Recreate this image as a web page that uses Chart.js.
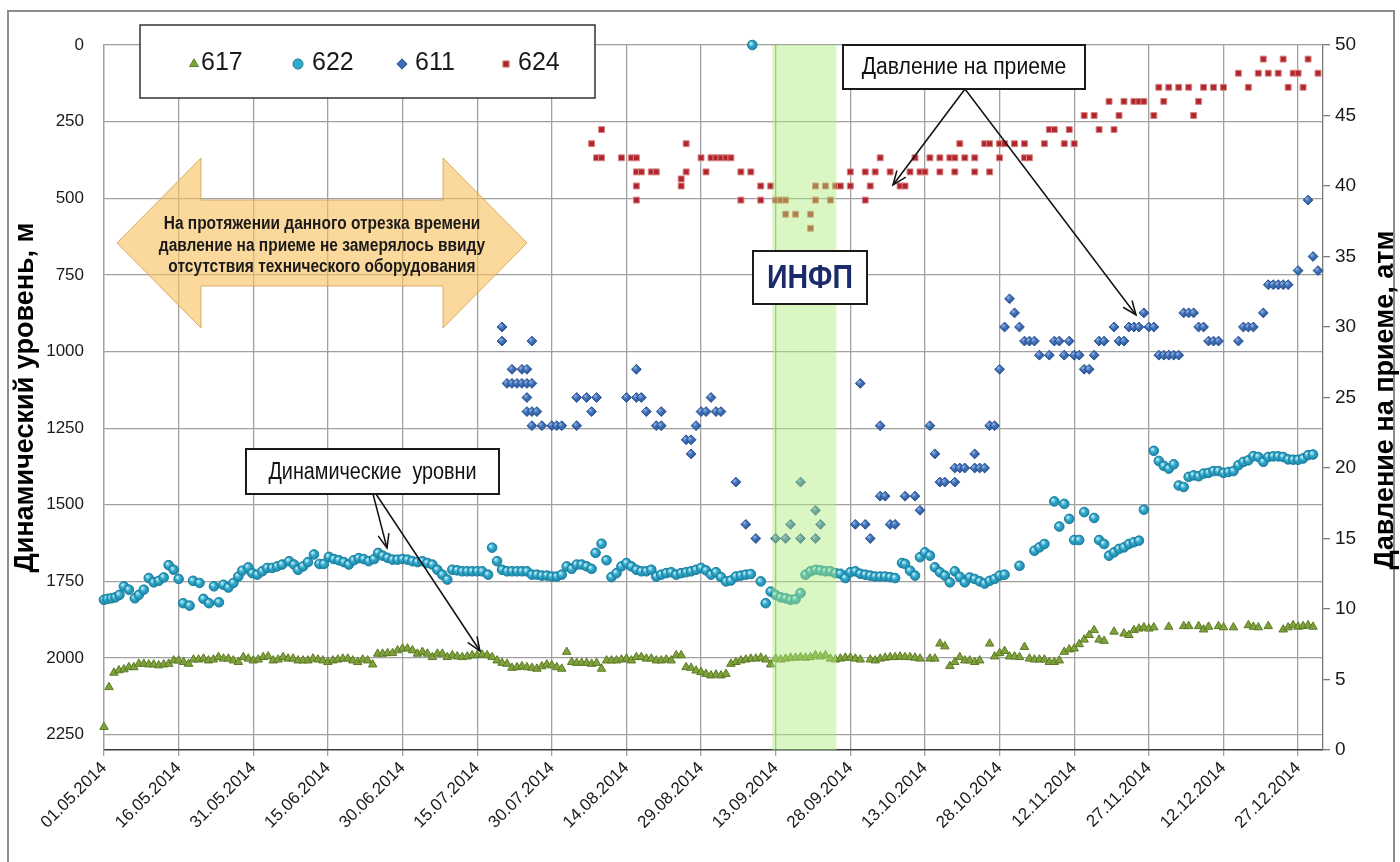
<!DOCTYPE html>
<html lang="ru">
<head>
<meta charset="utf-8">
<title>Динамический уровень и давление на приеме</title>
<script src="https://cdn.jsdelivr.net/npm/chart.js@4.4.1/dist/chart.umd.min.js"></script>
<style>
  html, body { margin: 0; padding: 0; background: #fff; }
  #wrap { position: relative; width: 1400px; height: 862px; }
</style>
</head>
<body>
<div id="wrap"><canvas id="chart" width="1400" height="862"></canvas></div>
<script>
"use strict";

// Data: x = days since 01.05.2014

var START = new Date(2014, 4, 1);

// well 617, dynamic level, m
var days617 = [0,1,2,3,4,5,6,7,8,9,10,11,12,13,14,15,16,17,18,19,20,21,22,23,24,25,26,27,28,29,
	30,31,32,33,34,35,36,37,38,39,40,41,42,43,44,45,46,47,48,49,50,51,52,53,54,55,56,57,58,59,
	60,61,62,63,64,65,66,67,68,69,70,71,72,73,74,75,76,77,78,79,80,81,82,83,84,85,86,87,88,89,
	90,91,92,93,94,95,96,97,98,99,100,101,102,103,104,105,106,107,108,109,110,111,112,113,114,115,116,117,118,119,
	120,121,122,123,124,125,126,127,128,129,130,131,132,133,134,135,136,137,138,139,140,141,142,143,144,145,146,147,148,149,
	150,151,152,154,155,156,157,158,159,160,161,162,163,164,166,167,168,169,170,171,172,173,174,175,176,178,179,
	180,181,182,183,184,185,186,187,188,189,190,191,192,193,194,195,196,197,198,199,200,201,203,205,206,207,208,209,
	210,211,214,217,218,220,221,222,224,225,227,230,231,232,234,237,238,239,240,241,242,243];
var level617 = [2225,2095,2048,2040,2037,2030,2030,2019,2019,2021,2021,2024,2021,2019,2008,2008,2013,2019,2005,2005,
	2002,2008,2005,1997,2002,2002,2008,2013,1997,2002,2008,2005,1997,1995,2008,2005,1997,2002,2002,2008,
	2008,2008,2002,2005,2008,2013,2008,2005,2002,2002,2008,2013,2005,2008,2021,1986,1986,1984,1984,1975,
	1969,1969,1975,1986,1980,1986,1997,1986,1986,1997,1991,1995,1997,1995,1991,1991,1989,1991,1997,2008,
	2016,2019,2032,2030,2027,2030,2032,2035,2027,2021,2024,2030,2035,1980,2013,2016,2016,2016,2019,2016,
	2035,2008,2008,2008,2005,2002,2008,1997,1997,2002,2002,2008,2008,2005,2008,1991,1991,2030,2032,2041,
	2046,2052,2057,2054,2057,2052,2019,2013,2008,2005,2002,2002,1999,2005,2021,2002,2005,2002,1999,1999,
	1997,1999,1997,1991,1995,1991,2002,2005,2002,1999,1999,2002,2005,2005,2008,2002,1999,1997,1997,1995,
	1997,1997,1999,2002,2002,2002,1953,1962,2026,2013,1997,2008,2008,2013,2008,1953,1995,1984,1977,1995,
	1995,1997,1964,2002,2005,2005,2005,2013,2013,2008,1980,1972,1969,1955,1940,1925,1909,1940,1944,1914,
	1920,1925,1909,1904,1900,1904,1900,1898,1896,1896,1896,1907,1898,1896,1900,1900,1893,1898,1900,1896,
	1907,1900,1893,1898,1896,1893,1898];

// well 622, dynamic level, m
var days622 = [0,0.7,1.5,2.3,3.1,4,5,6.2,7,8,9,10,11,12,13,14,15,15.9,17.2,17.9,19.2,20,21.1,22.1,23.1,24,25,26,27,27.8,
	29,29.8,30.8,31.8,32.8,33.8,34.8,35.8,37.2,38.2,39,40,41,42.2,43.3,44.2,45.2,46.2,47.2,48.2,49.2,50.2,51.2,52.2,53.2,54.3,55.1,56,57,58,
	59,60,61,62,63,64,65,66,67,68,69,70,71,72,73,74,75,76,77.2,78,79,80,81,82,83,84,85,86,87,88,
	89,90,91,92,93,94,95,96,97,98,98.8,100,101,102,103,104,105,106,107,108,109,110,111,112,113,114,115,116,117,118,
	119,120,121,122,123,124,125,126,127,128,129,130,130.3,132,133,134,135,136,137,138,139,140,141,142,143,144,145,146,147,148,
	149,150,151,152,153,154,155,156,157,158,159,160.4,161,162,163,164,165,166,167,168,169,170,171,172,173,174,175,176,177,178,
	179,180,181,184,187,188,189,191,192,193,194,195,196,197,199,200,201,202,203,204,205,206,207,208,209,211,212,213,214,215,
	216,217,218,219,220,221,222,223,224,225,226,227,228,229,230,231,232,233,234,235,236,237,238,239,240,241,242,243];
var level622 = [1810,1807,1805,1802,1794,1766,1777,1805,1794,1777,1739,1753,1748,1737,1697,1712,1742,1821,1829,1748,1755,1807,1821,1766,1818,1761,1770,1755,1734,1715,
	1704,1723,1728,1717,1706,1706,1701,1695,1684,1695,1712,1701,1687,1662,1693,1693,1670,1677,1681,1687,1695,1681,1674,1677,1684,1677,1657,1666,1673,1679,
	1679,1677,1679,1684,1687,1684,1690,1695,1712,1728,1744,1712,1714,1717,1717,1717,1717,1717,1728,1640,1684,1712,1717,1717,1717,1717,1717,1728,1728,1731,
	1731,1734,1734,1728,1701,1709,1695,1695,1701,1709,1657,1627,1681,1736,1723,1701,1690,1701,1712,1717,1717,1712,1734,1728,1723,1720,1728,1723,1720,1717,
	1712,1706,1714,1728,1720,1736,1750,1747,1734,1731,1728,1726,0,1750,1821,1783,1794,1802,1805,1810,1808,1788,1728,1717,1712,1714,1717,1717,1723,1725,
	1739,1720,1717,1725,1728,1731,1734,1734,1734,1736,1739,1690,1693,1715,1731,1671,1655,1666,1704,1720,1731,1753,1717,1735,1753,1737,1742,1750,1757,1748,
	1742,1731,1728,1699,1650,1639,1628,1489,1571,1497,1546,1615,1615,1524,1543,1615,1628,1666,1655,1644,1639,1628,1622,1617,1516,1324,1357,1373,1382,1368,
	1437,1442,1409,1404,1407,1398,1396,1390,1390,1396,1393,1390,1371,1360,1355,1341,1344,1360,1344,1342,1342,1344,1352,1353,1353,1349,1338,1336];

// well 611, intake pressure, atm
var days611 = [80,80,81,82,82,83,84,84,85,85,85,85,86,86,86,86,87,88,90,91,92,95,95,97,98,99,105,107,107,108,
	109,111,112,112,117,118,118,119,120,121,122,123,124,127,129,131,135,137,138,140,140,143,143,144,151,152,153,154,156,156,
	157,158,159,161,163,164,166,167,168,169,171,171,172,173,175,175,176,177,178,179,180,181,182,183,184,185,186,187,188,190,
	191,192,193,194,195,196,197,198,199,200,201,203,204,205,206,207,208,209,210,211,212,213,214,215,216,217,218,219,220,221,
	222,223,224,228,229,230,231,233,234,235,236,237,238,240,242,243,244];
var press611 = [30,29,26,27,26,26,27,26,27,26,25,24,29,26,24,23,24,23,23,23,23,25,23,25,24,25,25,27,25,25,
	24,23,24,23,22,22,21,23,24,24,25,24,24,19,16,15,15,15,16,19,15,17,15,16,16,26,16,15,23,18,
	18,16,16,18,18,17,23,21,19,19,20,19,20,20,21,20,20,20,23,23,27,30,32,31,30,29,29,29,28,28,
	29,29,28,29,28,28,27,27,28,29,29,30,29,29,30,30,30,31,30,30,28,28,28,28,28,31,31,31,30,30,
	29,29,29,29,30,30,30,31,33,33,33,33,33,34,39,35,34];

// well 624, intake pressure, atm
var days624 = [98,99,100,100,104,106,107,107,107,107,108,110,111,116,116,117,117,120,121,122,123,124,125,126,128,128,130,132,132,134,
	135,136,137,137,139,142,142,143,143,145,146,147,148,150,150,153,153,154,155,156,158,160,161,162,163,164,165,166,168,168,
	170,171,171,172,173,175,175,177,178,178,180,180,181,183,185,185,186,189,190,191,193,194,195,197,199,200,202,203,204,205,
	207,208,209,211,212,213,214,216,218,219,220,221,223,225,228,230,232,233,234,236,237,238,239,240,241,242,244];
var press624 = [43,42,44,42,42,42,42,41,40,39,41,41,41,40.5,40,43,41,42,41,42,42,42,42,42,41,39,41,40,39,40,
	39,39,39,38,38,38,37,40,39,40,39,40,40,40,41,41,39,40,41,42,41,40,40,41,42,41,41,42,42,41,
	42,41,42,43,42,42,41,43,41,43,43,42,43,43,43,42,42,43,44,44,43,44,43,45,45,44,46,44,45,46,
	46,46,46,45,47,46,47,47,47,45,46,47,47,47,48,47,48,49,48,48,49,47,48,48,47,49,48];

// ИНФП period (days)
var bandFrom = 134.3, bandTo = 147.2;

// Axis settings
var X_MAX = 245, X_STEP = 15;
var LEVEL_MAX = 2300, LEVEL_STEP = 250;
var PRESS_MAX = 50, PRESS_STEP = 5;

// Styles

var SANS = "'Liberation Sans', Arial, sans-serif",
	GRID = "#a0a0a0";

var STYLE_617 = { pointStyle: "triangle", radius: 4.9, backgroundColor: "#7fa23b", borderColor: "#5b7a25" },
	STYLE_622 = { pointStyle: "circle", radius: 4.8, backgroundColor: "#31a9cb", borderColor: "#1b7f9f",
		light: "#c4eef9", dark: "#1a7fa0" },
	STYLE_611 = { pointStyle: "rectRot", radius: 4.9, backgroundColor: "#3c6db5", borderColor: "#2a5394",
		light: "#8fb0e2", dark: "#27508f" },
	STYLE_624 = { pointStyle: "rect", radius: 4.2, backgroundColor: "#b0262c", borderColor: "#d98585" };

function toPoints(xs, ys) {
	return xs.map(function (x, i) { return { x: x, y: ys[i] }; });
}

function formatDay(value) {
	var d = new Date(START.getFullYear(), START.getMonth(), START.getDate() + value);
	var dd = ("0" + d.getDate()).slice(-2), mm = ("0" + (d.getMonth() + 1)).slice(-2);
	return dd + "." + mm + "." + d.getFullYear();
}

// shaded marker fill, lit from the upper left like the Excel markers
function glossyFill(style) {
	if (!style.light) {
		return style.backgroundColor;
	}
	return function (context) {
		var chart = context.chart, raw = context.raw;
		if (context.type !== "data" || !raw) {
			return style.backgroundColor;
		}
		var ds = chart.data.datasets[context.datasetIndex];
		var sx = chart.scales.x, sy = chart.scales[ds.yAxisID];
		var x = sx.getPixelForValue(raw.x), y = sy.getPixelForValue(raw.y);
		if (!isFinite(x) || !isFinite(y)) {
			return style.backgroundColor;
		}
		var g = chart.ctx.createRadialGradient(x - 1.6, y - 1.8, 0.3, x, y, style.radius + 0.5);
		g.addColorStop(0, style.light);
		g.addColorStop(0.45, style.backgroundColor);
		g.addColorStop(1, style.dark);
		return g;
	};
}

function makeDataset(label, points, axis, style, order) {
	return {
		label: label,
		data: points,
		yAxisID: axis,
		order: order,
		clip: false,
		pointStyle: style.pointStyle,
		pointRadius: style.radius,
		pointBackgroundColor: glossyFill(style),
		pointBorderColor: style.borderColor,
		pointBorderWidth: 1,
		showLine: false
	};
}

// Annotation helpers

function arrowLine(ctx, x1, y1, x2, y2) {
	var a = Math.atan2(y2 - y1, x2 - x1), h = 15, w = 0.38;
	ctx.beginPath();
	ctx.moveTo(x1, y1);
	ctx.lineTo(x2, y2);
	ctx.stroke();
	ctx.beginPath();
	ctx.moveTo(x2 - h * Math.cos(a - w), y2 - h * Math.sin(a - w));
	ctx.lineTo(x2, y2);
	ctx.lineTo(x2 - h * Math.cos(a + w), y2 - h * Math.sin(a + w));
	ctx.stroke();
}

// text squeezed horizontally, the way a narrow face looks
function narrowText(ctx, text, x, y, font, squeeze) {
	ctx.save();
	ctx.translate(x, y);
	ctx.scale(squeeze, 1);
	ctx.font = font;
	ctx.fillText(text, 0, 0);
	ctx.restore();
}

function textBox(ctx, x, y, w, h, text, font, color, squeeze) {
	ctx.fillStyle = "#fff";
	ctx.fillRect(x, y, w, h);
	ctx.strokeStyle = "#1a1a1a";
	ctx.lineWidth = 2;
	ctx.strokeRect(x, y, w, h);
	ctx.fillStyle = color;
	ctx.textAlign = "center";
	ctx.textBaseline = "middle";
	narrowText(ctx, text, x + w / 2, y + h / 2 + 1, font, squeeze);
}

var bandPlugin = {
	id: "infpBand",
	afterDatasetsDraw: function (chart) {
		var ctx = chart.ctx, area = chart.chartArea, sx = chart.scales.x;
		var x1 = sx.getPixelForValue(bandFrom), x2 = sx.getPixelForValue(bandTo);
		ctx.save();
		ctx.fillStyle = "rgba(172, 238, 122, 0.45)";
		ctx.fillRect(x1, area.top, x2 - x1, area.bottom - area.top);
		ctx.restore();
	}
};

var annotationPlugin = {
	id: "annotations",
	beforeDraw: function (chart) {
		var ctx = chart.ctx;
		ctx.save();
		ctx.fillStyle = "#fff";
		ctx.fillRect(0, 0, chart.width, chart.height);
		ctx.restore();
	},
	afterDraw: function (chart) {
		var ctx = chart.ctx;
		ctx.save();

		// outer frame
		ctx.strokeStyle = "#8c8c8c";
		ctx.lineWidth = 2;
		ctx.strokeRect(8, 11, 1386, 870);

		// big double arrow
		ctx.beginPath();
		ctx.moveTo(117, 243);
		ctx.lineTo(201, 158);
		ctx.lineTo(201, 200);
		ctx.lineTo(443, 200);
		ctx.lineTo(443, 158);
		ctx.lineTo(527, 243);
		ctx.lineTo(443, 328);
		ctx.lineTo(443, 286);
		ctx.lineTo(201, 286);
		ctx.lineTo(201, 328);
		ctx.closePath();
		ctx.fillStyle = "rgba(249, 192, 96, 0.62)";
		ctx.fill();
		ctx.strokeStyle = "rgba(205, 160, 80, 0.8)";
		ctx.lineWidth = 1;
		ctx.stroke();
		ctx.fillStyle = "#1a1a1a";
		ctx.textAlign = "center";
		ctx.textBaseline = "alphabetic";
		var arrowFont = "bold 18px " + SANS;
		narrowText(ctx, "На протяжении данного отрезка времени", 322, 229, arrowFont, 0.86);
		narrowText(ctx, "давление на приеме не замерялось ввиду", 322, 251, arrowFont, 0.86);
		narrowText(ctx, "отсутствия технического оборудования", 322, 272, arrowFont, 0.86);

		// legend
		ctx.fillStyle = "#fff";
		ctx.fillRect(140, 25, 455, 73);
		ctx.strokeStyle = "#333";
		ctx.lineWidth = 1.5;
		ctx.strokeRect(140, 25, 455, 73);
		var items = [
			["617", STYLE_617, 194, 201],
			["622", STYLE_622, 298, 312],
			["611", STYLE_611, 402, 415],
			["624", STYLE_624, 506, 518]
		];
		items.forEach(function (it) {
			var st = it[1];
			ctx.fillStyle = st.backgroundColor;
			ctx.strokeStyle = st.borderColor;
			ctx.lineWidth = 1;
			Chart.helpers.drawPoint(ctx, { pointStyle: st.pointStyle, radius: st.radius * 1.05, borderWidth: 1 }, it[2], 64);
			ctx.fillStyle = "#1a1a1a";
			ctx.font = "25px " + SANS;
			ctx.textAlign = "left";
			ctx.textBaseline = "middle";
			ctx.fillText(it[0], it[3], 63);
		});

		// callouts
		ctx.strokeStyle = "#111";
		ctx.lineWidth = 1.5;
		arrowLine(ctx, 965, 89, 893, 185);
		arrowLine(ctx, 965, 89, 1136, 315);
		arrowLine(ctx, 373, 494, 387, 548);
		arrowLine(ctx, 376, 494, 480, 651);

		textBox(ctx, 843, 45, 242, 44, "Давление на приеме", "23px " + SANS, "#111", 0.92);
		textBox(ctx, 246, 449, 253, 45, "Динамические  уровни", "23px " + SANS, "#111", 0.86);
		textBox(ctx, 753, 251, 114, 53, "ИНФП", "bold 34px " + SANS, "#1b2a6b", 0.84);

		// right axis title (reads bottom to top)
		ctx.translate(1386, 400);
		ctx.rotate(-Math.PI / 2);
		ctx.fillStyle = "#000";
		ctx.font = "bold 27px " + SANS;
		ctx.textAlign = "center";
		ctx.textBaseline = "middle";
		ctx.fillText("Давление на приеме, атм", 0, 0);

		ctx.restore();
	}
};

var tickFont = { family: SANS, size: 17 };

new Chart(document.getElementById("chart"), {
	type: "scatter",
	data: {
		datasets: [
			makeDataset("617", toPoints(days617, level617), "y", STYLE_617, 4),
			makeDataset("622", toPoints(days622, level622), "y", STYLE_622, 3),
			makeDataset("611", toPoints(days611, press611), "y2", STYLE_611, 2),
			makeDataset("624", toPoints(days624, press624), "y2", STYLE_624, 1)
		]
	},
	options: {
		responsive: false,
		animation: false,
		events: [],
		layout: { padding: { top: 45, left: 0, right: 0, bottom: 0 } },
		plugins: {
			legend: { display: false },
			tooltip: { enabled: false }
		},
		scales: {
			x: {
				type: "linear",
				position: "bottom",
				min: 0,
				max: X_MAX,
				afterFit: function (scale) { scale.height = 112; },
				ticks: {
					stepSize: X_STEP,
					includeBounds: false,
					autoSkip: false,
					maxRotation: 45,
					minRotation: 45,
					padding: 2,
					color: "#1a1a1a",
					font: { family: SANS, size: 17 },
					callback: function (v) { return formatDay(v); }
				},
				grid: { color: GRID, lineWidth: 1.3, tickLength: 6 },
				border: { color: "#3a3a3a", width: 1.6 }
			},
			y: {
				position: "left",
				reverse: true,
				min: 0,
				max: LEVEL_MAX,
				afterFit: function (scale) { scale.width = 104; },
				afterBuildTicks: function (scale) {
					var ticks = [];
					for (var v = 0; v < LEVEL_MAX; v += LEVEL_STEP) {
						ticks.push({ value: v });
					}
					scale.ticks = ticks;
				},
				ticks: {
					padding: 20,
					color: "#1a1a1a",
					font: tickFont,
					callback: function (v) { return String(v); }
				},
				grid: { color: GRID, lineWidth: 1.3, drawTicks: false },
				border: { color: GRID, width: 1.3 },
				title: {
					display: true,
					text: "Динамический уровень, м",
					color: "#000",
					font: { family: SANS, size: 27, weight: "bold" },
					padding: { top: 9, bottom: 0 }
				}
			},
			y2: {
				position: "right",
				min: 0,
				max: PRESS_MAX,
				afterFit: function (scale) { scale.width = 77; },
				ticks: {
					stepSize: PRESS_STEP,
					includeBounds: false,
					padding: 5,
					color: "#1a1a1a",
					font: { family: SANS, size: 19 }
				},
				grid: { drawOnChartArea: false, color: "#7a7a7a", tickLength: 7, lineWidth: 1.3 },
				border: { color: "#7a7a7a", width: 1.3 }
			}
		}
	},
	plugins: [bandPlugin, annotationPlugin]
});
</script>
</body>
</html>
